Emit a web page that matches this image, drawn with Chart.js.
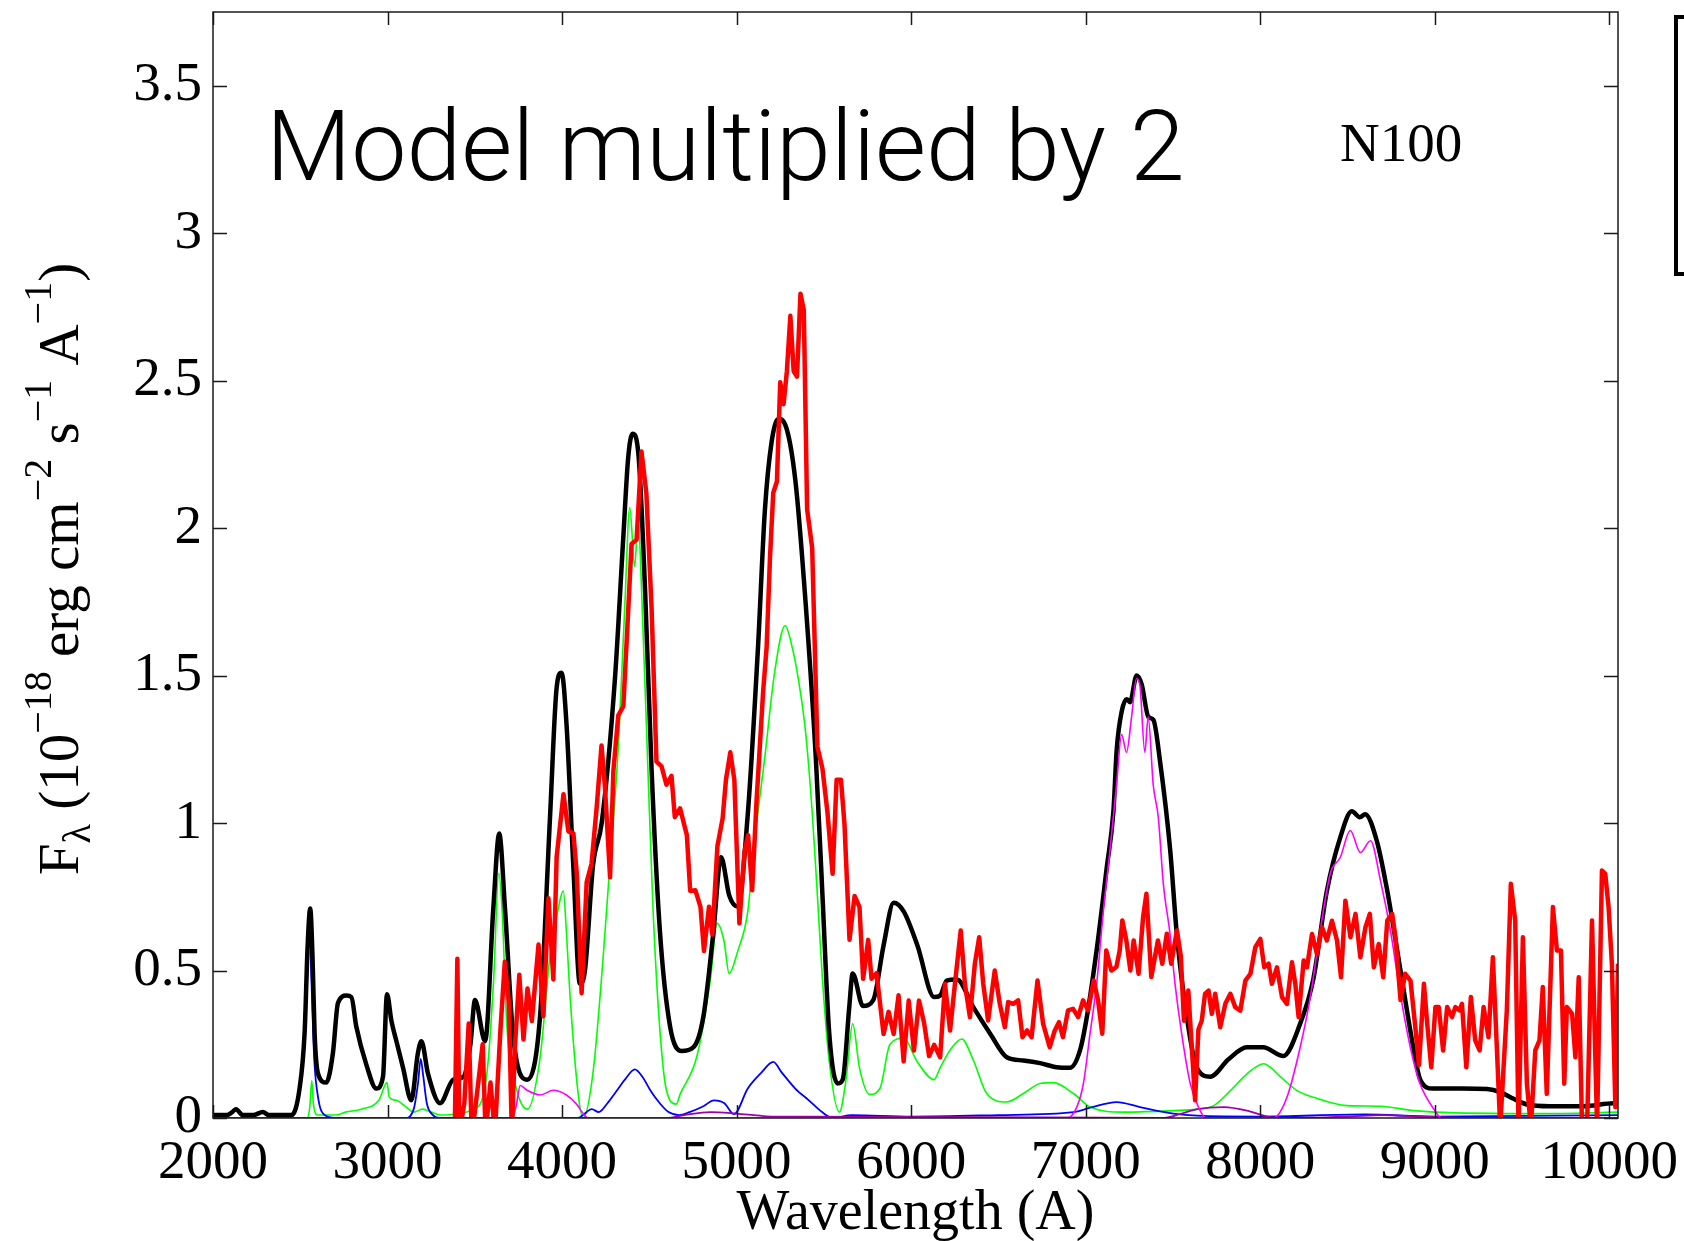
<!DOCTYPE html>
<html><head><meta charset="utf-8">
<script src="https://cdn.jsdelivr.net/npm/chart.js@4.4.1/dist/chart.umd.min.js"></script>
<style>html,body{margin:0;padding:0;background:#fff;overflow:hidden}canvas{display:block}</style>
</head><body>
<canvas id="c" width="1684" height="1241" style="width:1684px;height:1241px"></canvas>
<script>
// ---- data: [wavelength (A), flux] ----
const xTickValues = [2000,3000,4000,5000,6000,7000,8000,9000,10000];
const yTickValues = [0,0.5,1,1.5,2,2.5,3,3.5];

const modelTotal = [[2000,0.01],[2080,0.01],[2110,0.02],[2132,0.03],[2170,0.01],[2230,0.01],[2286,0.02],[2320,0.01],[2450,0.01],[2496,0.10],[2525,0.29],[2542,0.58],[2557,0.71],[2570,0.55],[2582,0.29],[2602,0.15],[2649,0.12],[2687,0.22],[2716,0.39],[2764,0.415],[2793,0.41],[2821,0.31],[2879,0.18],[2936,0.10],[2974,0.14],[2997,0.42],[3022,0.33],[3051,0.26],[3089,0.17],[3136,0.06],[3174,0.22],[3194,0.26],[3232,0.15],[3301,0.05],[3377,0.13],[3435,0.14],[3475,0.25],[3501,0.40],[3559,0.26],[3606,0.71],[3640,0.965],[3673,0.71],[3721,0.27],[3801,0.13],[3874,0.345],[3931,1.02],[3969,1.46],[3997,1.51],[4026,1.33],[4064,0.86],[4102,0.456],[4131,0.50],[4178,0.86],[4227,1.0],[4303,1.49],[4350,1.96],[4379,2.24],[4404,2.32],[4436,2.26],[4475,1.80],[4513,1.18],[4561,0.63],[4619,0.31],[4685,0.227],[4753,0.24],[4810,0.345],[4867,0.63],[4911,0.884],[4958,0.754],[5006,0.717],[5064,1.03],[5123,1.6],[5162,2.06],[5200,2.29],[5240,2.37],[5279,2.35],[5337,2.16],[5395,1.75],[5454,1.22],[5492,0.754],[5531,0.285],[5579,0.117],[5608,0.13],[5646,0.38],[5665,0.49],[5724,0.38],[5783,0.40],[5842,0.585],[5900,0.73],[5958,0.70],[6036,0.585],[6132,0.41],[6166,0.415],[6204,0.466],[6262,0.47],[6357,0.375],[6453,0.286],[6548,0.206],[6643,0.195],[6739,0.186],[6834,0.172],[6910,0.17],[6968,0.23],[7006,0.34],[7063,0.57],[7121,0.85],[7159,1.04],[7178,1.25],[7207,1.38],[7235,1.42],[7254,1.41],[7292,1.50],[7321,1.47],[7359,1.36],[7388,1.35],[7426,1.21],[7484,0.91],[7522,0.625],[7580,0.34],[7637,0.17],[7713,0.14],[7820,0.20],[7923,0.24],[8017,0.24],[8132,0.21],[8229,0.32],[8304,0.47],[8382,0.77],[8458,0.95],[8525,1.04],[8571,1.02],[8601,1.03],[8668,0.94],[8725,0.78],[8801,0.51],[8877,0.24],[8917,0.13],[8990,0.10],[9150,0.10],[9300,0.098],[9375,0.088],[9452,0.065],[9528,0.046],[9662,0.04],[9853,0.04],[10025,0.05],[10050,0.05]];

const compGreen = [[2000,0],[2540,0],[2555,0.04],[2566,0.127],[2575,0.05],[2600,0.01],[2700,0.01],[2760,0.02],[2850,0.03],[2950,0.06],[2997,0.12],[3010,0.07],[3050,0.06],[3100,0.04],[3150,0.02],[3200,0.03],[3250,0.02],[3301,0.01],[3495,0.03],[3571,0.16],[3608,0.47],[3637,0.83],[3656,0.71],[3684,0.31],[3741,0.094],[3802,0.03],[3874,0.205],[3931,0.55],[3978,0.71],[4007,0.77],[4025,0.63],[4045,0.42],[4093,0.078],[4121,0.0],[4178,0.157],[4236,0.55],[4274,0.86],[4322,1.256],[4359,1.73],[4388,2.07],[4416,1.87],[4435,2.02],[4464,1.65],[4492,1.18],[4521,0.71],[4559,0.31],[4598,0.094],[4655,0.047],[4676,0.08],[4773,0.21],[4850,0.47],[4889,0.66],[4928,0.6],[4957,0.49],[5006,0.565],[5064,0.70],[5103,0.94],[5161,1.22],[5220,1.52],[5278,1.67],[5317,1.6],[5356,1.48],[5395,1.31],[5434,1.03],[5463,0.754],[5492,0.47],[5531,0.19],[5589,0.02],[5627,0.13],[5665,0.32],[5704,0.17],[5762,0.08],[5821,0.1],[5879,0.25],[5958,0.27],[6036,0.19],[6132,0.13],[6166,0.17],[6223,0.23],[6290,0.268],[6357,0.195],[6433,0.083],[6548,0.054],[6643,0.083],[6739,0.117],[6815,0.12],[6930,0.083],[7026,0.037],[7217,0.02],[7504,0.025],[7637,0.03],[7734,0.042],[7829,0.093],[7925,0.15],[8020,0.184],[8115,0.14],[8211,0.093],[8306,0.07],[8497,0.042],[8688,0.04],[8879,0.025],[9000,0.02],[9600,0.015],[10050,0.02]];

const compBlue = [[2000,0],[2220,0],[2260,0.02],[2300,0.015],[2350,0.005],[2450,0.01],[2480,0.05],[2510,0.15],[2535,0.4],[2552,0.64],[2565,0.45],[2580,0.2],[2605,0.06],[2640,0.01],[2700,0],[3100,0],[3150,0.03],[3175,0.12],[3190,0.2],[3205,0.14],[3225,0.05],[3260,0.01],[3300,0],[4090,0],[4120,0.01],[4170,0.03],[4210,0.02],[4260,0.05],[4310,0.09],[4360,0.13],[4417,0.165],[4460,0.14],[4510,0.09],[4560,0.05],[4610,0.02],[4670,0.01],[4730,0.02],[4810,0.04],[4870,0.06],[4930,0.05],[4985,0.013],[5064,0.1],[5142,0.154],[5210,0.19],[5259,0.154],[5336,0.1],[5414,0.06],[5490,0.02],[5550,0.0],[5660,0.01],[6000,0.005],[6500,0.01],[6930,0.02],[7026,0.035],[7178,0.054],[7311,0.037],[7503,0.015],[7640,0.008],[8000,0.005],[8600,0.012],[9000,0.005],[10050,0.01]];

const compMagenta = [[3720,0],[3740,0.05],[3760,0.11],[3800,0.094],[3875,0.078],[3950,0.094],[4025,0.078],[4083,0.047],[4121,0.015],[4150,0],[6893,0],[6949,0.037],[6987,0.117],[7025,0.286],[7063,0.455],[7101,0.70],[7139,0.906],[7177,1.13],[7206,1.30],[7234,1.24],[7263,1.36],[7291,1.49],[7310,1.47],[7339,1.24],[7358,1.36],[7387,1.13],[7416,1.02],[7445,0.794],[7483,0.625],[7512,0.455],[7550,0.286],[7599,0.117],[7646,0.037],[7690,0],[8076,0],[8153,0.07],[8229,0.24],[8287,0.41],[8344,0.636],[8402,0.83],[8459,0.884],[8516,0.975],[8574,0.9],[8632,0.94],[8689,0.805],[8746,0.636],[8803,0.42],[8860,0.24],[8913,0.12],[8995,0.03],[9040,0],[10050,0]];

const compPurple = [[2000,0],[4600,0],[4700,0.01],[4850,0.02],[5000,0.015],[5100,0.01],[5200,0.005],[5400,0.005],[7450,0],[7545,0.014],[7640,0.03],[7792,0.037],[7925,0.025],[8020,0.008],[8100,0],[8500,0.005],[8700,0.01],[8900,0.005],[9200,0],[10050,0]];

const observed = [[3385,-0.05],[3400,0.54],[3412,-0.05],[3440,0.05],[3465,0.32],[3482,-0.05],[3500,0.02],[3520,0.12],[3545,0.25],[3562,-0.05],[3590,0.12],[3615,-0.05],[3647,0.30],[3672,0.53],[3695,0.39],[3712,-0.05],[3730,0.24],[3755,0.486],[3779,0.266],[3802,0.439],[3827,0.329],[3865,0.588],[3893,0.345],[3922,0.745],[3950,0.47],[3969,0.886],[4008,1.098],[4036,0.972],[4065,0.965],[4084,0.831],[4112,0.423],[4141,0.80],[4169,0.863],[4198,1.051],[4226,1.263],[4245,1.13],[4275,0.816],[4294,1.177],[4322,1.365],[4351,1.396],[4370,1.616],[4398,1.946],[4427,1.961],[4455,2.26],[4483,2.118],[4513,1.726],[4541,1.208],[4570,1.192],[4598,1.13],[4627,1.16],[4646,1.02],[4676,1.05],[4715,0.959],[4734,0.77],[4764,0.772],[4793,0.716],[4813,0.566],[4842,0.716],[4861,0.622],[4890,0.922],[4920,1.016],[4939,1.147],[4964,1.24],[4987,1.147],[5016,0.66],[5045,0.903],[5066,0.959],[5089,0.772],[5114,1.072],[5133,1.259],[5152,1.446],[5172,1.596],[5191,1.896],[5210,2.12],[5231,2.158],[5250,2.495],[5269,2.42],[5288,2.532],[5308,2.72],[5327,2.532],[5346,2.514],[5366,2.795],[5385,2.739],[5404,2.064],[5433,1.933],[5463,1.259],[5492,1.184],[5521,1.034],[5550,0.828],[5573,1.147],[5598,1.147],[5618,0.997],[5647,0.604],[5676,0.753],[5704,0.716],[5725,0.472],[5754,0.604],[5773,0.472],[5802,0.491],[5842,0.285],[5871,0.36],[5900,0.285],[5928,0.416],[5957,0.192],[5986,0.398],[6016,0.229],[6045,0.398],[6074,0.323],[6103,0.21],[6132,0.248],[6166,0.206],[6194,0.455],[6223,0.297],[6251,0.455],[6284,0.636],[6308,0.455],[6337,0.342],[6365,0.523],[6390,0.613],[6413,0.455],[6441,0.331],[6479,0.50],[6508,0.387],[6537,0.308],[6556,0.393],[6585,0.387],[6613,0.399],[6638,0.274],[6664,0.297],[6690,0.274],[6724,0.466],[6756,0.32],[6794,0.24],[6823,0.297],[6847,0.325],[6870,0.274],[6899,0.365],[6928,0.37],[6957,0.342],[6985,0.399],[7014,0.365],[7046,0.466],[7071,0.399],[7095,0.286],[7118,0.568],[7147,0.50],[7176,0.512],[7195,0.568],[7210,0.67],[7233,0.602],[7256,0.50],[7275,0.602],[7303,0.489],[7329,0.681],[7348,0.76],[7376,0.478],[7414,0.602],[7439,0.523],[7465,0.625],[7490,0.523],[7523,0.636],[7545,0.55],[7563,0.33],[7588,0.432],[7608,0.24],[7627,0.06],[7646,0.30],[7665,0.33],[7684,0.421],[7704,0.432],[7723,0.353],[7742,0.421],[7771,0.308],[7800,0.387],[7829,0.421],[7857,0.376],[7886,0.364],[7915,0.466],[7944,0.489],[7972,0.579],[8001,0.607],[8023,0.511],[8048,0.523],[8067,0.455],[8096,0.511],[8125,0.41],[8153,0.387],[8182,0.528],[8201,0.455],[8220,0.342],[8249,0.534],[8268,0.511],[8297,0.624],[8325,0.556],[8354,0.647],[8382,0.602],[8411,0.669],[8440,0.602],[8463,0.477],[8488,0.737],[8517,0.613],[8546,0.692],[8574,0.545],[8603,0.647],[8628,0.692],[8651,0.511],[8679,0.59],[8705,0.477],[8728,0.669],[8756,0.692],[8775,0.613],[8804,0.40],[8830,0.489],[8861,0.466],[8890,0.30],[8910,0.18],[8938,0.455],[8957,0.319],[8980,0.172],[9004,0.376],[9023,0.376],[9048,0.229],[9071,0.376],[9099,0.342],[9118,0.376],[9143,0.365],[9156,0.387],[9181,0.172],[9207,0.41],[9232,0.263],[9257,0.229],[9280,0.376],[9308,0.274],[9333,0.545],[9355,0.252],[9375,-0.03],[9413,0.365],[9436,0.794],[9461,0.67],[9480,-0.03],[9505,0.613],[9528,0.116],[9551,-0.03],[9576,0.229],[9600,0.263],[9619,0.444],[9642,0.082],[9677,0.715],[9700,0.568],[9723,0.568],[9742,0.116],[9757,0.376],[9787,0.353],[9806,0.206],[9825,0.477],[9844,-0.03],[9873,-0.03],[9901,0.67],[9930,-0.03],[9958,0.839],[9977,0.828],[9996,0.715],[10015,0.523],[10035,0.037],[10050,0.523]];

const toXY = arr => arr.map(p => ({x: p[0], y: p[1]}));
const serif = '"Liberation Serif", "Times New Roman", serif';

const decor = {
  id: 'decor',
  afterDatasetsDraw(chart) {
    const {ctx, chartArea: a, scales: {x, y}} = chart;
    ctx.save();
    ctx.strokeStyle = '#1a1a1a';
    ctx.lineWidth = 1.5;
    ctx.strokeRect(a.left, a.top, a.right - a.left, a.bottom - a.top);
    ctx.beginPath();
    for (const v of xTickValues) {
      const px = Math.round(x.getPixelForValue(v)) + 0.5;
      ctx.moveTo(px, a.bottom); ctx.lineTo(px, a.bottom - 13);
      ctx.moveTo(px, a.top); ctx.lineTo(px, a.top + 13);
    }
    for (const v of yTickValues) {
      const py = Math.round(y.getPixelForValue(v)) + 0.5;
      ctx.moveTo(a.left, py); ctx.lineTo(a.left + 14, py);
      ctx.moveTo(a.right, py); ctx.lineTo(a.right - 14, py);
    }
    ctx.stroke();
    ctx.restore();
  },
  afterDraw(chart) {
    const {ctx, chartArea: a, scales: {x}} = chart;
    ctx.save();
    ctx.fillStyle = '#000';
    ctx.textBaseline = 'alphabetic';
    // x tick labels, positioned by the x scale
    ctx.textAlign = 'center';
    ctx.font = '55px ' + serif;
    for (const v of xTickValues) {
      ctx.fillText(String(v), x.getPixelForValue(v), a.bottom + 60);
    }
    // in-plot annotation (sans, light)
    ctx.textAlign = 'left';
    let fs = 97;
    ctx.font = '300 ' + fs + 'px Roboto, "Liberation Sans", sans-serif';
    const w = ctx.measureText('Model multiplied by 2').width;
    fs = Math.max(88, Math.min(106, fs * 919 / w));
    ctx.font = '300 ' + fs.toFixed(1) + 'px Roboto, "Liberation Sans", sans-serif';
    ctx.fillText('Model multiplied by 2', 266, 180);
    ctx.font = '55px ' + serif;
    ctx.fillText('N100', 1340, 161);
    ctx.textAlign = 'center';
    ctx.font = '56px ' + serif;
    ctx.fillText('Wavelength (A)', (a.left + a.right) / 2, 1229);
    const parts = [
      ['F', 57, 0], ['\u03bb', 40, 12], [' (10', 57, 0], ['\u221218', 40, -27],
      [' erg cm', 57, 0], ['\u22122', 40, -27], [' s', 57, 0], ['\u22121', 40, -27],
      [' A', 57, 0], ['\u22121', 40, -27], [')', 57, 0]
    ];
    let total = 0;
    for (const p of parts) { ctx.font = p[1] + 'px ' + serif; total += ctx.measureText(p[0]).width; }
    ctx.translate(78, 569);
    ctx.rotate(-Math.PI / 2);
    ctx.textAlign = 'left';
    let cx = -total / 2;
    for (const p of parts) {
      ctx.font = p[1] + 'px ' + serif;
      ctx.fillText(p[0], cx, p[2]);
      cx += ctx.measureText(p[0]).width;
    }
    ctx.restore();
    ctx.save();
    ctx.strokeStyle = '#000';
    ctx.lineWidth = 4;
    ctx.strokeRect(1676, 17, 60, 257);
    ctx.restore();
  }
};

const ds = (label, data, color, width, order, extra) => Object.assign({
  label, data: toXY(data), borderColor: color, backgroundColor: color,
  borderWidth: width, pointRadius: 0, fill: false, order,
  cubicInterpolationMode: 'monotone'
}, extra || {});

new Chart(document.getElementById('c'), {
  type: 'line',
  data: {
    datasets: [
      ds('Observed', observed, '#ff0000', 4.5, 0, {clip: 0, borderJoinStyle: 'round', cubicInterpolationMode: 'default', tension: 0}),
      ds('Component 3', compMagenta, '#ff00ff', 1.6, 1),
      ds('Model', modelTotal, '#000000', 4.5, 2, {borderJoinStyle: 'round'}),
      ds('Component 4', compPurple, '#a000a8', 1.8, 3),
      ds('Component 2', compBlue, '#0000ff', 1.8, 4),
      ds('Component 1', compGreen, '#00ff00', 1.6, 5)
    ]
  },
  options: {
    responsive: false,
    animation: false,
    devicePixelRatio: 1,
    layout: {padding: {left: 0, right: 66, top: 12, bottom: 0}},
    plugins: {legend: {display: false}, tooltip: {enabled: false}},
    scales: {
      x: {
        type: 'linear', min: 2000, max: 10050,
        grid: {display: false, drawTicks: false},
        border: {display: false},
        ticks: {display: false, stepSize: 1000},
        afterFit: s => { s.height = 123; s.paddingLeft = 0; s.paddingRight = 0; }
      },
      y: {
        type: 'linear', min: 0, max: 3.75,
        grid: {display: false, drawTicks: false},
        border: {display: false},
        ticks: {stepSize: 0.5, includeBounds: false, autoSkip: false, padding: 11,
          color: '#000', font: {family: serif, size: 55},
          callback: v => yTickValues.includes(v) ? String(v) : ''},
        afterFit: s => { s.width = 213; s.paddingTop = 0; s.paddingBottom = 0; }
      }
    }
  },
  plugins: [decor]
});
</script>
</body></html>
